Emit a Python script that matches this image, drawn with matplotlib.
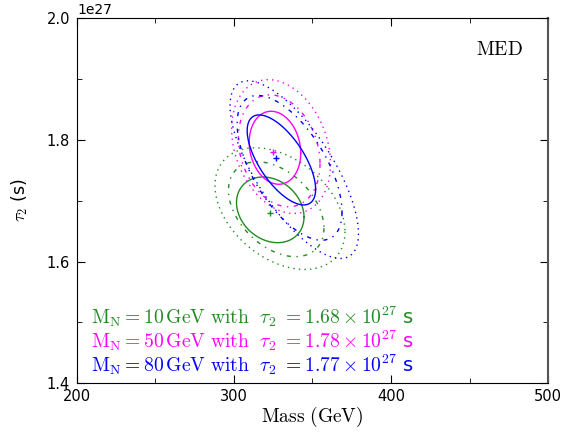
import numpy as np
import matplotlib
matplotlib.use('Agg')
import matplotlib.pyplot as plt
from matplotlib.ticker import MultipleLocator

plt.rcParams['mathtext.fontset'] = 'cm'

# benchmark points
m_N = [10, 50, 80]
best_mass = [323, 325, 327]          # GeV
best_tau = [1.68, 1.78, 1.77]        # 1e27 s
colors = ['forestgreen', '#ff00ff', '#0000ff']

# contour shapes, one row per CL (solid, dash-dot, dotted)
# columns: centre mass, centre tau, half width (GeV), half height (1e27 s), tilt
green_cont = [[323.1, 1.685, 21.5, 0.054, -0.22],
              [326.9, 1.686, 30.4, 0.078, -0.40],
              [329.3, 1.687, 41.4, 0.100, -0.38]]
magenta_cont = [[326.1, 1.787, 16.4, 0.060, -0.15],
                [328.8, 1.782, 26.0, 0.092, -0.23],
                [330.0, 1.789, 31.5, 0.110, -0.26]]
blue_cont = [[330.2, 1.767, 21.8, 0.074, -0.65],
             [335.4, 1.754, 33.4, 0.119, -0.61],
             [338.4, 1.751, 40.9, 0.146, -0.72]]
contours = [green_cont, magenta_cont, blue_cont]
styles = ['-', (0, (3, 4, 1, 4)), (0, (1, 3))]

scale = 1e27

fig = plt.figure(figsize=(5.83, 4.33), dpi=100)
ax = fig.add_axes([0.132, 0.115, 0.808, 0.843])

t = np.linspace(0, 2 * np.pi, 300)
for cont, col in zip(contours, colors):
    for (mx, my, a, b, rho), ls in zip(cont, styles):
        d = np.arccos(rho)
        xs = mx + a * np.cos(t)
        ys = my + b * np.cos(t + d)
        ax.plot(xs, ys * scale, color=col, linestyle=ls, lw=1.0)

for mx, my, col in zip(best_mass, best_tau, colors):
    ax.plot(mx, my * scale, '+', color=col, ms=5, mew=1.0)

# labels in the lower left
for i, (mn, tau, col) in enumerate(zip(m_N, best_tau, colors)):
    txt = (r'$\mathrm{M_N = %d\,GeV\ with\ \ \tau_2\ = %.2f \times 10^{27}}$ s'
           % (mn, tau))
    ax.text(0.03, 0.164 - i * 0.0657, txt, transform=ax.transAxes,
            color=col, fontsize=14.1, va='baseline')

ax.text(0.947, 0.9, r'$\mathrm{MED}$', transform=ax.transAxes,
        ha='right', fontsize=14)

ax.set_xlim(200, 500)
ax.set_ylim(1.4e27, 2.0e27)
ax.xaxis.set_major_locator(MultipleLocator(100))
ax.xaxis.set_minor_locator(MultipleLocator(50))
ax.yaxis.set_major_locator(MultipleLocator(0.2e27))
ax.yaxis.set_minor_locator(MultipleLocator(0.1e27))
ax.tick_params(which='both', direction='in', top=True, right=True, labelsize=10.5)
ax.tick_params(which='major', length=6)
ax.tick_params(axis='x', which='major', pad=4)
ax.tick_params(axis='y', which='major', pad=5)
ax.tick_params(which='minor', length=3.5)

ax.set_xlabel(r'$\mathrm{Mass\ (GeV)}$', fontsize=14, labelpad=1)
ax.set_ylabel(r'$\tau_2$ (s)', fontsize=12.5, labelpad=12)
ax.spines['right'].set_color('#555555')
ax.spines['right'].set_linewidth(1.5)

fig.savefig('out.png', dpi=100)
